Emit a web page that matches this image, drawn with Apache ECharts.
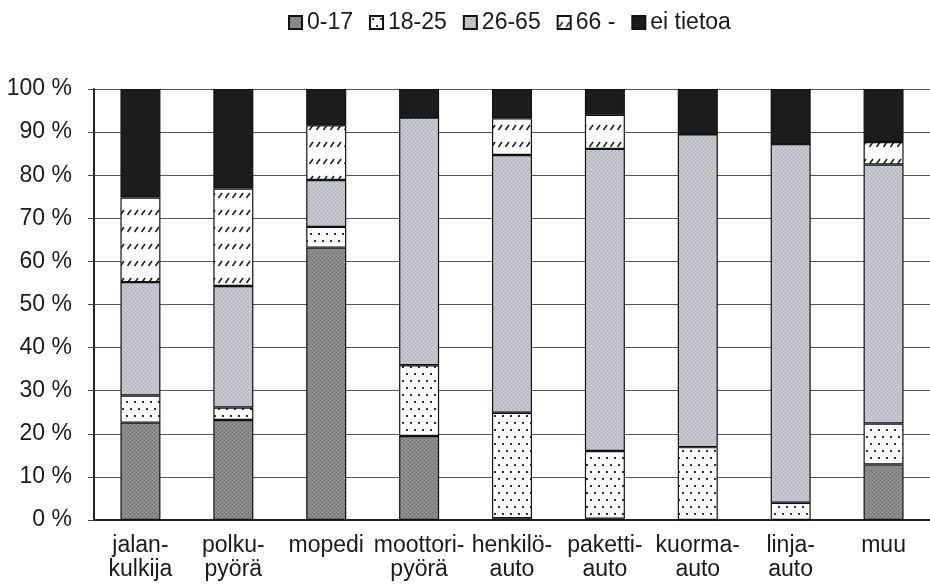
<!DOCTYPE html>
<html>
<head>
<meta charset="utf-8">
<script src="https://cdn.jsdelivr.net/npm/echarts@6/dist/echarts.min.js"></script>
<style>
  html, body { margin: 0; padding: 0; background: #fff; }
  #chart { width: 930px; height: 585px; }
</style>
</head>
<body>
<div id="chart"></div>
<script>
// categories and shares (%) per age group
var categories = ["jalan-\nkulkija", "polku-\npyörä", "mopedi", "moottori-\npyörä", "henkilö-\nauto", "paketti-\nauto", "kuorma-\nauto", "linja-\nauto", "muu"];
var seriesNames = ["0-17", "18-25", "26-65", "66 -", "ei tietoa"];
var age0_17 = [22.6, 23.2, 63.2, 19.5, 0.4, 0.3, 0, 0, 12.9];
var age18_25 = [6.3, 2.9, 4.8, 16.4, 24.5, 15.7, 16.9, 4.0, 9.5];
var age26_65 = [26.3, 28.2, 10.9, 57.5, 59.8, 70.1, 72.6, 83.2, 60.1];
var age66 = [19.6, 22.6, 12.7, 0, 8.5, 7.9, 0, 0, 5.2];
var eiTietoa = [25.2, 23.1, 8.4, 6.6, 6.8, 6.0, 10.5, 12.8, 12.3];
var yTicks = [0, 10, 20, 30, 40, 50, 60, 70, 80, 90, 100];

var FONT = "Liberation Sans, Arial, sans-serif";

var makeCanvas = function (w, h, bg) {
  var c = document.createElement("canvas");
  c.width = w;
  c.height = h;
  var ctx = c.getContext("2d");
  ctx.fillStyle = bg;
  ctx.fillRect(0, 0, w, h);
  return c;
};

// dark grey speckled fill
var greyDark = function () {
  var c = makeCanvas(4, 4, "#888888");
  var ctx = c.getContext("2d");
  ctx.fillStyle = "#727272";
  ctx.fillRect(0, 0, 1, 1);
  ctx.fillRect(2, 2, 1, 1);
  ctx.fillStyle = "#9a9a9a";
  ctx.fillRect(2, 0, 1, 1);
  ctx.fillRect(0, 2, 1, 1);
  return c;
};

// light grey (bluish) speckled fill
var greyLight = function () {
  var c = makeCanvas(4, 4, "#c2c2ca");
  var ctx = c.getContext("2d");
  ctx.fillStyle = "#b0b0ba";
  ctx.fillRect(1, 1, 1, 1);
  ctx.fillRect(3, 3, 1, 1);
  ctx.fillStyle = "#d2d2d8";
  ctx.fillRect(3, 1, 1, 1);
  ctx.fillRect(1, 3, 1, 1);
  return c;
};

// white with sparse staggered dots
var dots = function () {
  var c = makeCanvas(8, 14, "#ffffff");
  var ctx = c.getContext("2d");
  ctx.fillStyle = "#333";
  ctx.fillRect(2, 2, 2, 2);
  ctx.fillRect(6, 9, 2, 2);
  return c;
};

// white with rows of short diagonal dashes
var hatch = function () {
  var c = makeCanvas(7, 17, "#ffffff");
  var ctx = c.getContext("2d");
  ctx.strokeStyle = "#222";
  ctx.lineWidth = 1.6;
  ctx.beginPath();
  ctx.moveTo(1.5, 11);
  ctx.lineTo(5, 6);
  ctx.stroke();
  return c;
};

var fills = [
  { image: greyDark(), repeat: "repeat" },
  { image: dots(), repeat: "repeat" },
  { image: greyLight(), repeat: "repeat" },
  { image: hatch(), repeat: "repeat" },
  "#1c1c1c",
];
var values = [age0_17, age18_25, age26_65, age66, eiTietoa];

var series = [];
for (var i = 0; i < seriesNames.length; i++) {
  series.push({
    name: seriesNames[i],
    type: "bar",
    stack: "total",
    barWidth: 40,
    itemStyle: {
      color: fills[i],
      borderColor: "#111",
      borderWidth: 1.2,
    },
    data: values[i],
  });
}

var chart = echarts.init(document.getElementById("chart"), null, { renderer: "canvas" });
chart.setOption({
  animation: false,
  textStyle: { fontFamily: FONT },
  legend: {
    data: seriesNames,
    icon: "rect",
    left: 283,
    top: 6,
    itemWidth: 13,
    itemHeight: 13,
    itemGap: 16,
    textStyle: { fontFamily: FONT, fontSize: 23, color: "#1a1a1a" },
  },
  grid: {
    left: 94,
    top: 89,
    width: 838,
    bottom: 65,
  },
  xAxis: {
    type: "category",
    data: categories,
    axisLine: { lineStyle: { color: "#222", width: 2 } },
    axisTick: { length: 4, lineStyle: { color: "#999" } },
    axisLabel: {
      fontFamily: FONT,
      fontSize: 23,
      color: "#1a1a1a",
      lineHeight: 24,
      margin: 14,
      interval: 0,
    },
  },
  yAxis: {
    type: "value",
    min: yTicks[0],
    max: yTicks[yTicks.length - 1],
    interval: 10,
    axisLine: { show: true, lineStyle: { color: "#222", width: 2 } },
    axisTick: { show: true, length: 6, lineStyle: { color: "#444" } },
    splitLine: { lineStyle: { color: "#555", width: 1 } },
    axisLabel: {
      fontFamily: FONT,
      fontSize: 23,
      color: "#1a1a1a",
      margin: 22,
      formatter: "{value} %",
    },
  },
  series: series,
});
</script>
</body>
</html>
